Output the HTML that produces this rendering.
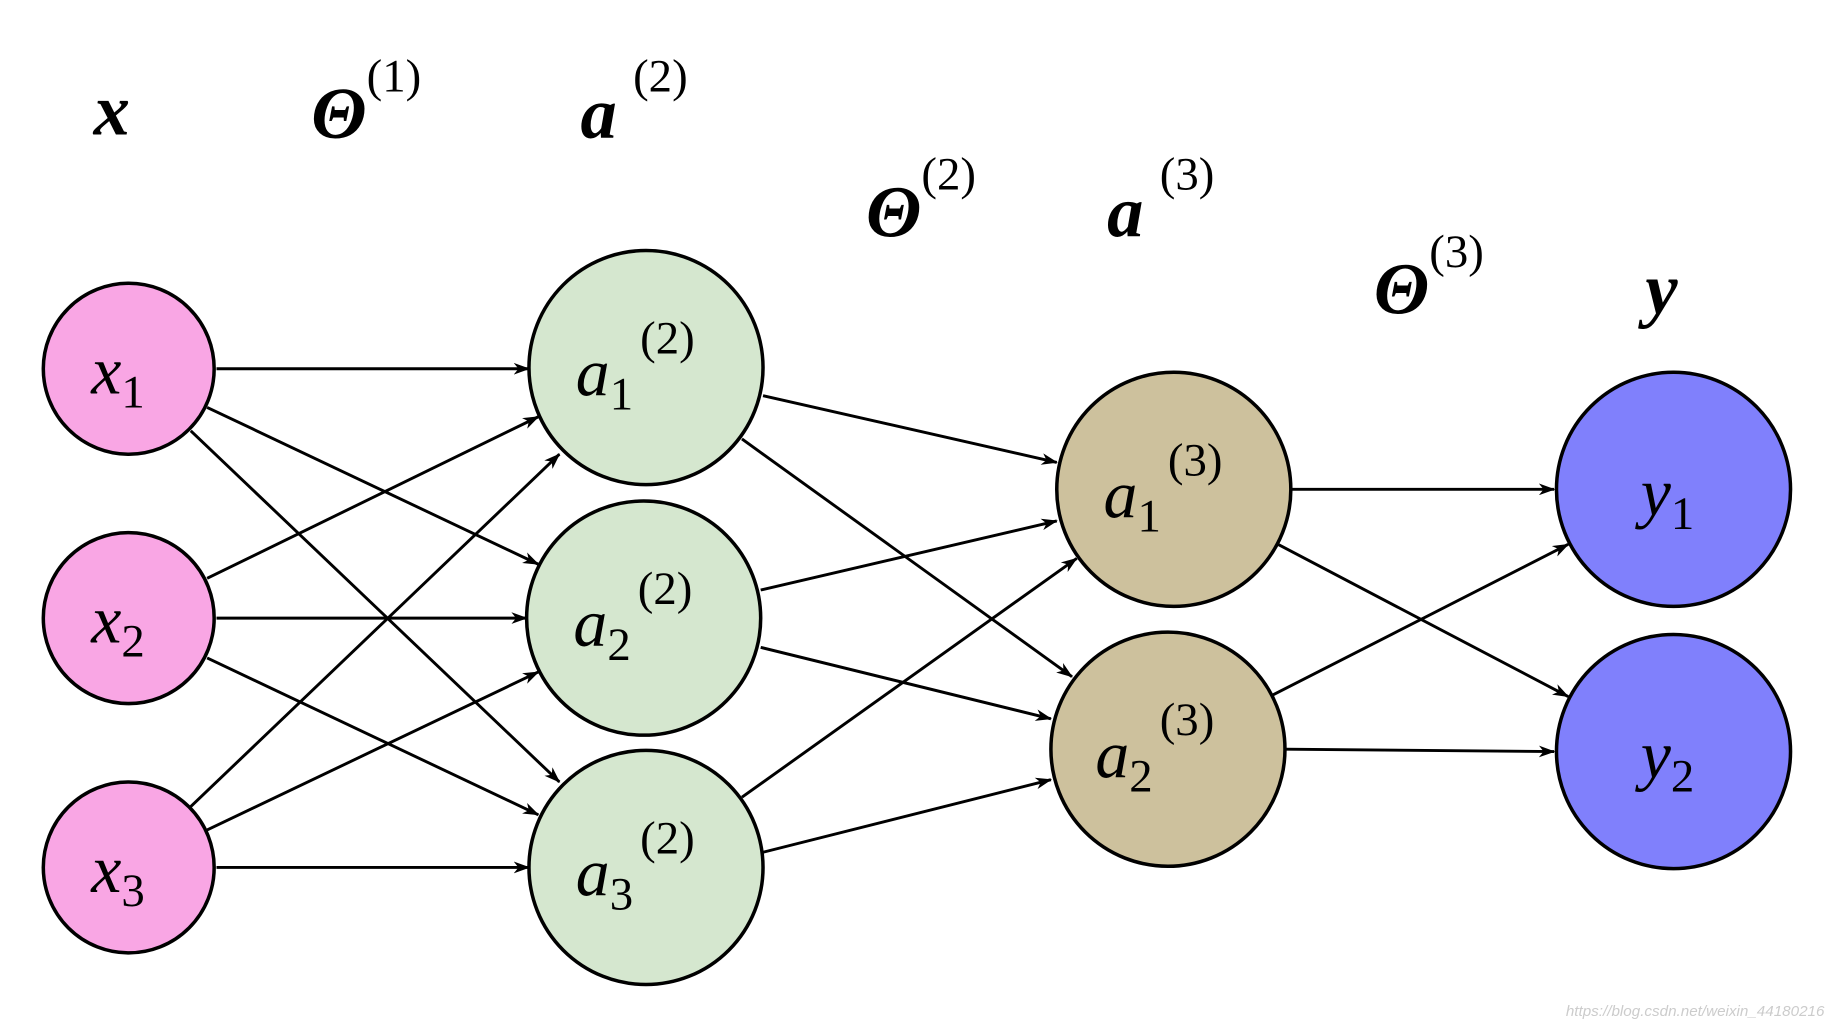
<!DOCTYPE html>
<html><head><meta charset="utf-8"><style>
html,body{margin:0;padding:0;background:#fff;}
svg{display:block;}
text{font-family:"Liberation Serif",serif;font-style:italic;fill:#000;}
</style></head><body>
<svg width="1835" height="1029" viewBox="0 0 1568 879" preserveAspectRatio="none" xmlns="http://www.w3.org/2000/svg">
<defs>
<marker id="ar" markerWidth="14" markerHeight="10" refX="13" refY="5" orient="auto" markerUnits="userSpaceOnUse">
<path d="M0,0 L14,5 L0,10 L4,5 Z" fill="#000"/>
</marker>
</defs>
<rect width="1568" height="879" fill="#fff"/>
<g stroke="#000" stroke-width="2.5" marker-end="url(#ar)">
<line x1="185" y1="315" x2="452" y2="315"/>
<line x1="177" y1="348" x2="460" y2="482"/>
<line x1="163" y1="368" x2="478" y2="668"/>
<line x1="177" y1="494" x2="460" y2="356"/>
<line x1="185" y1="528" x2="450" y2="528"/>
<line x1="177" y1="562" x2="460" y2="696"/>
<line x1="163" y1="689" x2="478" y2="388"/>
<line x1="177" y1="709" x2="460" y2="574"/>
<line x1="185" y1="741" x2="452" y2="741"/>
<line x1="652" y1="338" x2="903" y2="395"/>
<line x1="634" y1="375" x2="916" y2="578"/>
<line x1="650" y1="504" x2="903" y2="445"/>
<line x1="650" y1="553" x2="898" y2="614"/>
<line x1="634" y1="681" x2="920" y2="477"/>
<line x1="652" y1="728" x2="898" y2="666"/>
<line x1="1103" y1="418" x2="1328" y2="418"/>
<line x1="1092" y1="465" x2="1340" y2="595"/>
<line x1="1087" y1="594" x2="1340" y2="465"/>
<line x1="1098" y1="640" x2="1328" y2="642"/>
</g>
<g stroke="#000" stroke-width="3">
<circle cx="110" cy="315" r="73" fill="#f9a6e4"/>
<circle cx="110" cy="528" r="73" fill="#f9a6e4"/>
<circle cx="110" cy="741" r="73" fill="#f9a6e4"/>
<circle cx="552" cy="314" r="100" fill="#d5e7cf"/>
<circle cx="550" cy="528" r="100" fill="#d5e7cf"/>
<circle cx="552" cy="741" r="100" fill="#d5e7cf"/>
<circle cx="1003" cy="418" r="100" fill="#cdc19d"/>
<circle cx="998" cy="640" r="100" fill="#cdc19d"/>
<circle cx="1430" cy="418" r="100" fill="#8080fc"/>
<circle cx="1430" cy="642" r="100" fill="#8080fc"/>
</g>
<g font-size="58">
<text x="78" y="336">x<tspan font-size="40" font-style="normal" dy="12">1</tspan></text>
<text x="78" y="549">x<tspan font-size="40" font-style="normal" dy="12">2</tspan></text>
<text x="78" y="762">x<tspan font-size="40" font-style="normal" dy="12">3</tspan></text>
<text x="492" y="338">a<tspan font-size="40" font-style="normal" dy="12">1</tspan><tspan font-size="40" font-style="normal" dx="6" dy="-48">(2)</tspan></text>
<text x="490" y="552">a<tspan font-size="40" font-style="normal" dy="12">2</tspan><tspan font-size="40" font-style="normal" dx="6" dy="-48">(2)</tspan></text>
<text x="492" y="765">a<tspan font-size="40" font-style="normal" dy="12">3</tspan><tspan font-size="40" font-style="normal" dx="6" dy="-48">(2)</tspan></text>
<text x="943" y="442">a<tspan font-size="40" font-style="normal" dy="12">1</tspan><tspan font-size="40" font-style="normal" dx="6" dy="-48">(3)</tspan></text>
<text x="936" y="664">a<tspan font-size="40" font-style="normal" dy="12">2</tspan><tspan font-size="40" font-style="normal" dx="6" dy="-48">(3)</tspan></text>
<text x="1402" y="440">y<tspan font-size="40" font-style="normal" dy="12">1</tspan></text>
<text x="1402" y="664">y<tspan font-size="40" font-style="normal" dy="12">2</tspan></text>
</g>
<g font-size="62" font-weight="bold">
<text x="80" y="115">x</text>
<text x="266" y="118">Θ<tspan font-size="40" font-weight="normal" font-style="normal" dy="-40">(1)</tspan></text>
<text x="496" y="118">a<tspan font-size="40" font-weight="normal" font-style="normal" dx="14" dy="-40">(2)</tspan></text>
<text x="740" y="202">Θ<tspan font-size="40" font-weight="normal" font-style="normal" dy="-40">(2)</tspan></text>
<text x="946" y="202">a<tspan font-size="40" font-weight="normal" font-style="normal" dx="14" dy="-40">(3)</tspan></text>
<text x="1174" y="268">Θ<tspan font-size="40" font-weight="normal" font-style="normal" dy="-40">(3)</tspan></text>
<text x="1406" y="268">y</text>
</g>
<text x="1338" y="868" font-size="13" font-style="normal" style="font-family:'Liberation Sans',sans-serif;fill:#ccc">https://blog.csdn.net/weixin_44180216</text>
</svg>
</body></html>
